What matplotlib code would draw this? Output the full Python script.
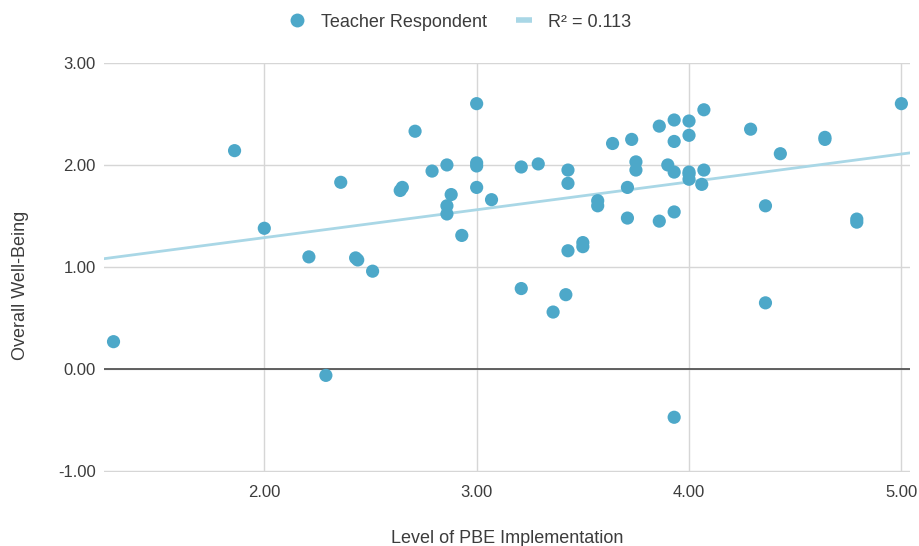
import matplotlib.pyplot as plt
from matplotlib.lines import Line2D
import numpy as np

# Level of PBE Implementation vs Overall Well-Being, one point per teacher
pbe_level = [1.29, 1.86, 2.00, 2.21, 2.29, 2.36, 2.43, 2.44, 2.51,
             2.64, 2.65, 2.71, 2.79, 2.86, 2.86, 2.86, 2.88, 2.93,
             3.00, 3.00, 3.00, 3.00, 3.07, 3.21, 3.21, 3.29, 3.36,
             3.42, 3.43, 3.43, 3.43, 3.50, 3.50, 3.57, 3.57, 3.64,
             3.71, 3.71, 3.73, 3.75, 3.75, 3.86, 3.86, 3.90, 3.93,
             3.93, 3.93, 3.93, 3.93, 4.00, 4.00, 4.00, 4.00, 4.00,
             4.06, 4.07, 4.07, 4.29, 4.36, 4.36, 4.43, 4.64, 4.64,
             4.79, 4.79, 5.00]
well_being = [0.27, 2.14, 1.38, 1.10, -0.06, 1.83, 1.09, 1.07, 0.96,
              1.75, 1.78, 2.33, 1.94, 2.00, 1.60, 1.52, 1.71, 1.31,
              2.60, 2.02, 1.99, 1.78, 1.66, 1.98, 0.79, 2.01, 0.56,
              0.73, 1.95, 1.82, 1.16, 1.24, 1.20, 1.65, 1.60, 2.21,
              1.78, 1.48, 2.25, 2.03, 1.95, 2.38, 1.45, 2.00, 2.44,
              2.23, 1.93, 1.54, -0.47, 2.43, 2.29, 1.93, 1.86, 1.91,
              1.81, 2.54, 1.95, 2.35, 1.60, 0.65, 2.11, 2.27, 2.25,
              1.47, 1.44, 2.60]

x_ticks = [2, 3, 4, 5]
y_ticks = [-1, 0, 1, 2, 3]

dot_color = '#4da8c9'
trend_color = '#a9d7e6'
text_color = '#3c3c3c'

plt.rcParams['font.family'] = ['Liberation Sans', 'DejaVu Sans']

fig = plt.figure(figsize=(9.2, 5.46), dpi=100)
ax = fig.add_axes([0.113, 0.1355, 0.876, 0.7495])

x = np.array(pbe_level)
y = np.array(well_being)
slope, intercept = np.polyfit(x, y, 1)
x_lim = (1.245, 5.04)
xs = np.array(x_lim)

ax.plot(xs, slope * xs + intercept, color=trend_color, lw=2, zorder=2)
ax.scatter(x, y, s=90, color=dot_color, edgecolors='none', zorder=3)

ax.set_xlim(*x_lim)
ax.set_ylim(-1.006, 3)
ax.set_xticks(x_ticks)
ax.set_yticks(y_ticks)
ax.set_xticklabels([f'{v:.2f}' for v in x_ticks])
ax.set_yticklabels([f'{v:.2f}' for v in y_ticks])
ax.tick_params(axis='y', length=0, labelsize=12, colors=text_color, pad=6)
ax.tick_params(axis='x', length=0, labelsize=12, colors=text_color, pad=9)
ax.grid(True, color='#d6d6d6', lw=1, zorder=0)
ax.axhline(0, color='#555555', lw=1.3, zorder=1)
for s in ax.spines.values():
    s.set_visible(False)
ax.set_axisbelow(True)

ax.set_xlabel('Level of PBE Implementation', fontsize=13, color=text_color,
              labelpad=22)
ax.set_ylabel('Overall Well-Being', fontsize=13, color=text_color)
ax.yaxis.set_label_coords(-0.093, 0.457)

handles = [
    Line2D([], [], ls='none', marker='o', markersize=10,
           markerfacecolor=dot_color, markeredgecolor='none'),
    Line2D([], [], color=trend_color, lw=4, solid_capstyle='butt'),
]
labels = ['Teacher Respondent', 'R² = 0.113']
fig.legend(handles, labels, loc='upper center',
           bbox_to_anchor=(0.5, 1.005), ncol=2, frameon=False, fontsize=13,
           labelcolor=text_color, handlelength=0.9, handletextpad=0.9,
           columnspacing=1.6)

fig.savefig('out.png', dpi=100)
